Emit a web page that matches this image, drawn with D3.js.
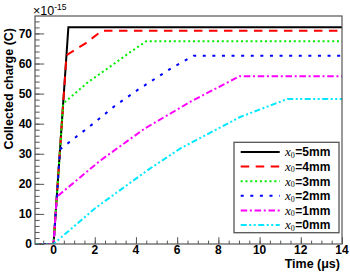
<!DOCTYPE html>
<html><head><meta charset="utf-8">
<script src="https://cdn.jsdelivr.net/npm/d3@7"></script>
<style>
html,body{margin:0;padding:0;background:#fff;}
svg{display:block;}
text{font-family:"Liberation Sans",Arial,Helvetica,sans-serif;}
</style></head>
<body>
<svg id="c" width="350" height="273"></svg>
<script>
// ---- data ----
const seriesLabels = ["5mm","4mm","3mm","2mm","1mm","0mm"];
const seriesColors = ["#000000","#ff0000","#00ee00","#0000ff","#ff00ff","#00e8ff"];
const seriesDash = [null,"8.5,6.5","2,2.8","3,6.6","6.5,2.7,2,2.7","6,2.5,2,2.5,2,2.5"];
const time5mm = [-1, 0, 0.72, 14];
const charge5mm = [0, 0, 72.1, 72.1];
const time4mm = [-1, 0, 0.63, 1.57, 2.35, 14];
const charge4mm = [0, 0, 62.8, 66.8, 70.9, 70.9];
const time3mm = [-1, 0, 0.47, 1.69, 2.67, 3.64, 4.5, 14];
const charge3mm = [0, 0, 46.7, 53.9, 58.6, 63.4, 67.4, 67.4];
const time2mm = [-1, 0, 0.32, 1.94, 2.99, 4.1, 4.94, 5.75, 6.8, 14];
const charge2mm = [0, 0, 31.5, 40.1, 46.0, 51.3, 55.0, 58.6, 62.6, 62.6];
const time1mm = [-1, 0, 0.16, 2.26, 4.45, 6.65, 9.03, 14];
const charge1mm = [0, 0, 15.7, 27.7, 38.5, 47.3, 55.8, 55.8];
const time0mm = [-1, 0, 2.02, 4.62, 6.16, 9.08, 11.35, 14];
const charge0mm = [0, 0, 11.9, 24.8, 31.8, 42.3, 48.2, 48.2];
const xTicks = [0, 2, 4, 6, 8, 10, 12, 14];
const yTicks = [0, 10, 20, 30, 40, 50, 60, 70];
const xDomain = [-0.9, 14];
const yDomain = [0, 75.8];

const seriesTimes = [time5mm, time4mm, time3mm, time2mm, time1mm, time0mm];
const seriesCharges = [charge5mm, charge4mm, charge3mm, charge2mm, charge1mm, charge0mm];

// ---- layout ----
const L = 35, R = 342, T = 16, B = 244;
const svg = d3.select("#c");
const x = d3.scaleLinear().domain(xDomain).range([L, R]);
const y = d3.scaleLinear().domain(yDomain).range([B, T]);

svg.append("defs").append("clipPath").attr("id","clip")
  .append("rect").attr("x",L).attr("y",T).attr("width",R-L).attr("height",B-T);

// axes with inward ticks
const xMinor = d3.range(-0.5, 14.01, 0.5);
const yMinor = d3.range(0, 75.8, 2);
const gx = svg.append("g").attr("transform",`translate(0,${B})`);
gx.call(d3.axisTop(x).tickValues(xMinor).tickSize(3.4).tickFormat(""));
gx.call(g=>g.select(".domain").remove());
const gx2 = svg.append("g").attr("transform",`translate(0,${B})`);
gx2.call(d3.axisTop(x).tickValues(xTicks).tickSize(6.8).tickFormat(""));
gx2.call(g=>g.select(".domain").remove());
const gy = svg.append("g").attr("transform",`translate(${L},0)`);
gy.call(d3.axisRight(y).tickValues(yMinor).tickSize(4.6).tickFormat(""));
gy.call(g=>g.select(".domain").remove());
const gy2 = svg.append("g").attr("transform",`translate(${L},0)`);
gy2.call(d3.axisRight(y).tickValues(yTicks).tickSize(9.2).tickFormat(""));
gy2.call(g=>g.select(".domain").remove());
svg.selectAll("g line").attr("stroke","#555").attr("stroke-width",1);

// tick labels
svg.append("g").selectAll("text").data(xTicks).join("text")
  .attr("x",d=>x(d)).attr("y",253.8).attr("text-anchor","middle")
  .attr("font-size",12).attr("font-weight","bold").text(d=>d);
svg.append("g").selectAll("text").data(yTicks).join("text")
  .attr("x",32).attr("y",d=>y(d)+4.3).attr("text-anchor","end")
  .attr("font-size",12).attr("font-weight","bold").text(d=>d);

// exponent
const ex = svg.append("text").attr("x",33).attr("y",15).attr("font-size",12.5);
ex.append("tspan").text("×10");
ex.append("tspan").attr("font-size",8.5).attr("dy",-5.5).text("-15");

// titles
svg.append("text").attr("x",340).attr("y",268).attr("text-anchor","end")
  .attr("font-size",12.5).attr("font-weight","bold").text("Time (μs)");
svg.append("text").attr("transform","translate(13,28) rotate(-90)").attr("text-anchor","end")
  .attr("font-size",12.5).attr("font-weight","bold").text("Collected charge (C)");

// series
const line = d3.line().x(d=>x(d[0])).y(d=>y(d[1]));
const plot = svg.append("g").attr("clip-path","url(#clip)");
seriesLabels.forEach((lab,i)=>{
  const pts = seriesTimes[i].map((t,j)=>[t, seriesCharges[i][j]]);
  const p = plot.append("path").attr("d",line(pts)).attr("fill","none")
    .attr("stroke",seriesColors[i]).attr("stroke-width",2);
  if (seriesDash[i]) p.attr("stroke-dasharray",seriesDash[i]);
});

// frame
svg.append("rect").attr("x",L).attr("y",T).attr("width",R-L).attr("height",B-T)
  .attr("fill","none").attr("stroke","#555").attr("stroke-width",1.2);

// legend
const lg = svg.append("g");
lg.append("rect").attr("x",234).attr("y",142.3).attr("width",105).attr("height",90.4)
  .attr("fill","#fff").attr("stroke","#555").attr("stroke-width",1.3);
seriesLabels.forEach((lab,i)=>{
  const yy = 152 + i*14.6;
  const l = lg.append("line").attr("x1",240.7).attr("x2",279.7).attr("y1",yy).attr("y2",yy)
    .attr("stroke",seriesColors[i]).attr("stroke-width",2);
  if (seriesDash[i]) l.attr("stroke-dasharray",seriesDash[i]);
  const t = lg.append("text").attr("x",285).attr("y",yy+4.3).attr("font-size",12).attr("font-weight","bold");
  t.append("tspan").attr("font-family","'Liberation Serif','Times New Roman',serif")
    .attr("font-style","italic").attr("font-weight","normal").attr("font-size",13).text("x");
  t.append("tspan").attr("font-family","'Liberation Serif','Times New Roman',serif")
    .attr("font-weight","normal").attr("font-size",8).attr("dy",1.5).text("0");
  t.append("tspan").attr("dy",-1.5).attr("dx",0.5).text("=" + lab);
});
</script>
</body></html>
